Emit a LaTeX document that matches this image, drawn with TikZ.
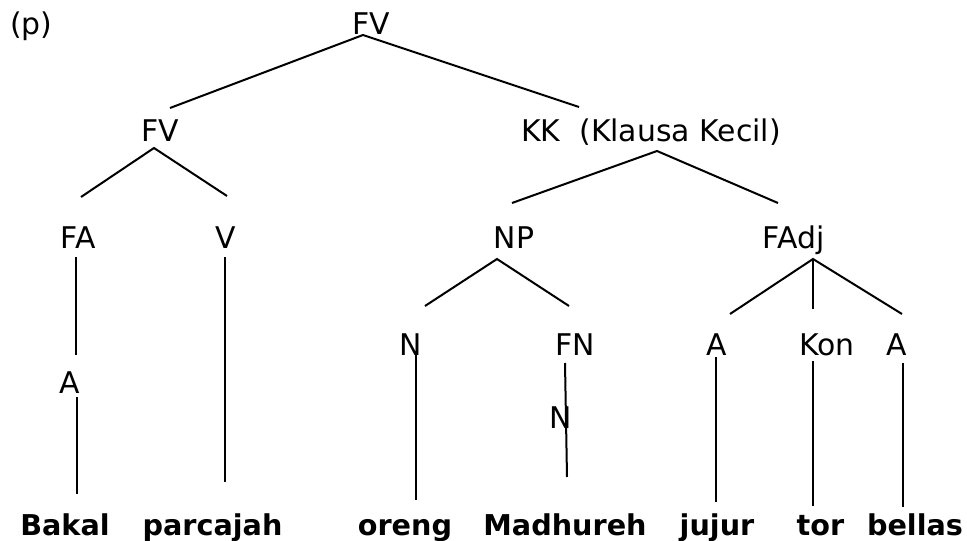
\documentclass[tikz,border=0pt]{standalone}
\usepackage{fontspec}
\setmainfont{DejaVu Sans}
\begin{document}
\begin{tikzpicture}[x=0.75pt,y=-0.75pt,
  lab/.style={anchor=base,inner sep=0pt,font=\fontsize{22.4}{27}\selectfont},
  word/.style={anchor=base,inner sep=0pt,font=\fontsize{21.5}{26}\selectfont\bfseries},
  branch/.style={line width=1.5pt,black}]
\useasboundingbox (0,0) rectangle (967,541);
% labels
\node[lab,anchor=base west] (p) at (10,35) {(p)};
\node[lab] (fv) at (371,35) {FV};
\node[lab] (fv2) at (160,142) {FV};
\node[lab,anchor=base west] (kk) at (521,142) {KK\ \ (Klausa Kecil)};
\node[lab] (fa) at (78,249) {FA};
\node[lab] (v) at (226,249) {V};
\node[lab] (np) at (514,249) {NP};
\node[lab] (fadj) at (793.5,249) {FAdj};
\node[lab] (n1) at (411,356) {N};
\node[lab] (fn) at (575,356) {FN};
\node[lab] (a2) at (717,356) {A};
\node[lab] (kon) at (827,356) {Kon};
\node[lab] (a3) at (897,356) {A};
\node[lab] (a1) at (70,393) {A};
\node[lab] (n2) at (561,428) {N};
% words
\node[word] (w1) at (65,535) {Bakal};
\node[word] (w2) at (212.5,535) {parcajah};
\node[word] (w3) at (405,535) {oreng};
\node[word] (w4) at (565,535) {Madhureh};
\node[word] (w5) at (717,535) {jujur};
\node[word] (w6) at (820.5,535) {tor};
\node[word] (w7) at (915,535) {bellas};
% connector end points
\coordinate (fvB) at (363,35);
\coordinate (fv2T) at (170,108);
\coordinate (kkT) at (579,107);
\coordinate (fv2B) at (154,148);
\coordinate (faT) at (81,197);
\coordinate (vT) at (227,196);
\coordinate (kkB) at (657,151);
\coordinate (npT) at (512,203);
\coordinate (fadjT) at (778,203);
\coordinate (faB) at (76,257);
\coordinate (a1T) at (76,355);
\coordinate (a1B) at (77,397);
\coordinate (w1T) at (77,494);
\coordinate (vB) at (225,257);
\coordinate (w2T) at (225,482);
\coordinate (npB) at (497,259);
\coordinate (n1T) at (425,306);
\coordinate (fnT) at (569,306);
\coordinate (fadjB) at (813,259);
\coordinate (a2T) at (730,314);
\coordinate (konT) at (813,309);
\coordinate (a3T) at (902,314);
\coordinate (n1B) at (416,355);
\coordinate (w3T) at (416,500);
\coordinate (fnB) at (565,363);
\coordinate (w4T) at (567,477);
\coordinate (a2B) at (716,357);
\coordinate (w5T) at (716,502);
\coordinate (konB) at (813,361);
\coordinate (w6T) at (813,506);
\coordinate (a3B) at (903,363);
\coordinate (w7T) at (903,507);
% branches
\draw[branch] (fv2T) -- (fvB) -- (kkT);
\draw[branch] (faT) -- (fv2B) -- (vT);
\draw[branch] (npT) -- (kkB) -- (fadjT);
\draw[branch] (n1T) -- (npB) -- (fnT);
\draw[branch] (a2T) -- (fadjB) -- (a3T);
\draw[branch] (fadjB) -- (konT);
\draw[branch] (faB) -- (a1T);
\draw[branch] (a1B) -- (w1T);
\draw[branch] (vB) -- (w2T);
\draw[branch] (n1B) -- (w3T);
\draw[branch] (fnB) -- (w4T);
\draw[branch] (a2B) -- (w5T);
\draw[branch] (konB) -- (w6T);
\draw[branch] (a3B) -- (w7T);
\end{tikzpicture}
\end{document}
